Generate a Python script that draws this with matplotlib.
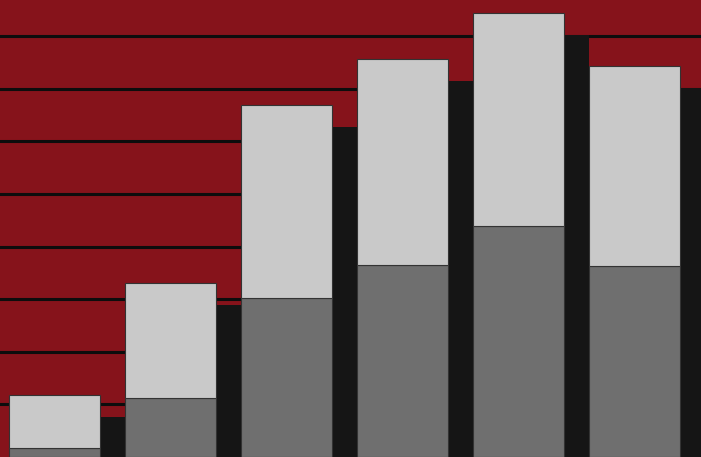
import numpy as np
import matplotlib
matplotlib.use('Agg')
import matplotlib.pyplot as plt
from matplotlib import transforms

# values (one grid step = 1 unit)
bottom_part = [0.17, 1.12, 3.02, 3.65, 4.39, 3.63]
totals = [1.18, 3.31, 6.69, 7.57, 8.44, 7.43]
top_part = [t - b for t, b in zip(totals, bottom_part)]
grid_levels = [1, 2, 3, 4, 5, 6, 7, 8]

BG = '#86131b'
LIGHT = '#c9c9c9'
DARK = '#6f6f6f'
SHADOW = '#151515'

fig = plt.figure(figsize=(7.01, 4.57), dpi=100)
fig.patch.set_facecolor(BG)
ax = fig.add_axes([0, 0, 1, 1])
ax.set_facecolor(BG)

x = np.arange(len(totals))
width = 0.785

for g in grid_levels:
    ax.axhline(g, color='#0d0d0d', lw=2.2, zorder=1)

# drop shadow: same bars shifted right and down in pixels
shadow_tr = transforms.offset_copy(ax.transData, fig=fig, x=25, y=-22, units='dots')
ax.bar(x, totals, width=width, color=SHADOW, transform=shadow_tr, zorder=2)

ax.bar(x, bottom_part, width=width, color=DARK, edgecolor='#333333', lw=0.8, zorder=3)
ax.bar(x, top_part, bottom=bottom_part, width=width, color=LIGHT,
       edgecolor='#333333', lw=0.8, zorder=3)

ax.set_xlim(-0.474, 5.57)
ax.set_ylim(0, 457 / 52.6)
ax.axis('off')

fig.savefig('out.png', dpi=100, facecolor=BG)
